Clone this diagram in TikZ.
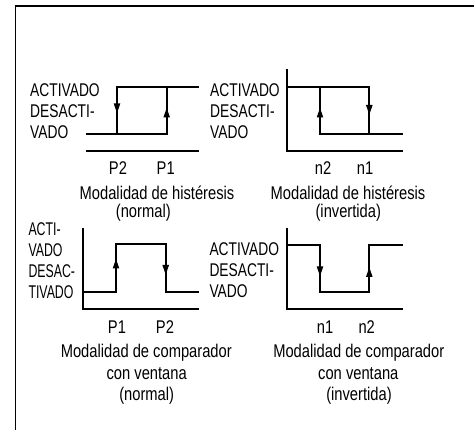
\documentclass[tikz,border=0pt]{standalone}
\usepackage{fontspec}
\newfontfamily\cf[FakeStretch=0.8]{Liberation Sans}
\newfontfamily\cfl[FakeStretch=0.75]{Liberation Sans}
\newfontfamily\cfn[FakeStretch=0.67]{Liberation Sans}
\usetikzlibrary{arrows.meta}
\begin{document}
\begin{tikzpicture}[x=1pt,y=-1pt,
  wave/.style={line width=2pt, line join=miter},
  frame/.style={line width=1.4pt},
  arr/.style={line width=2pt, -{Triangle[length=10pt,width=6pt]}},
  lbl/.style={font=\cfl\fontsize{18.4}{21}\selectfont, inner sep=0pt, anchor=base west},
  lbln/.style={font=\cfn\fontsize{18.4}{21}\selectfont, inner sep=0pt, anchor=base west},
  ctr/.style={font=\cf\fontsize{18.4}{21}\selectfont, inner sep=0pt, anchor=base}]
\useasboundingbox (0,0) rectangle (474,430);
% frame
\draw[frame] (15.5,430) -- (15.5,6) -- (474,6);
% ---------- panel 1: hysteresis normal
\draw[wave] (86,151) -- (199,151);
\draw[wave] (86,134.3) -- (166.7,134.3) -- (166.7,86.7);
\draw[wave] (117,134.3) -- (117,86.7) -- (199,86.7);
\draw[arr] (117,102) -- (117,113.5);
\draw[arr] (166.7,119) -- (166.7,107.5);
\node[lbl] (a1) at (30,96.7) {ACTIVADO};
\node[lbl] (a2) at (30,117.7) {DESACTI-};
\node[lbl] (a3) at (30,138.5) {VADO};
\node[ctr] (a4) at (118,174.3) {P2};
\node[ctr] (a5) at (165.7,174.3) {P1};
\node[ctr] (a6) at (157,199.3) {Modalidad de histéresis};
\node[ctr] (a7) at (143.3,217.5) {(normal)};
% ---------- panel 2: hysteresis inverted
\draw[wave] (286.7,69) -- (286.7,151) -- (402.7,151);
\draw[wave] (286.7,86.7) -- (369.3,86.7) -- (369.3,134.3) -- (402.7,134.3);
\draw[wave] (320,86.7) -- (320,134.3) -- (369.3,134.3);
\draw[arr] (320,119) -- (320,107.5);
\draw[arr] (369.3,102) -- (369.3,115);
\node[lbl] (b1) at (210,96.7) {ACTIVADO};
\node[lbl] (b2) at (210,117.7) {DESACTI-};
\node[lbl] (b3) at (210,138.5) {VADO};
\node[ctr] (b4) at (323,174.3) {n2};
\node[ctr] (b5) at (365,174.3) {n1};
\node[ctr] (b6) at (348,199.3) {Modalidad de histéresis};
\node[ctr] (b7) at (348.3,217.5) {(invertida)};
% ---------- panel 3: window normal
\draw[wave] (82.7,227.7) -- (82.7,309) -- (199.3,309);
\draw[wave] (82.7,292.3) -- (116,292.3) -- (116,244) -- (165.7,244) -- (165.7,292.3) -- (199.3,292.3);
\draw[arr] (116,270) -- (116,258.5);
\draw[arr] (165.7,263) -- (165.7,275);
\node[lbln] (c1) at (28.3,236) {ACTI-};
\node[lbln] (c2) at (28.3,256.7) {VADO};
\node[lbln] (c3) at (28.3,277.7) {DESAC-};
\node[lbln] (c4) at (28.3,298.3) {TIVADO};
\node[ctr] (c5) at (117,334) {P1};
\node[ctr] (c6) at (165,334) {P2};
\node[ctr] (c7) at (146.3,357.7) {Modalidad de comparador};
\node[ctr] (c8) at (146.7,379) {con ventana};
\node[ctr] (c9) at (146.7,400) {(normal)};
% ---------- panel 4: window inverted
\draw[wave] (286.7,228) -- (286.7,309) -- (402.7,309);
\draw[wave] (286.7,245) -- (320,245) -- (320,292.3) -- (369.3,292.3) -- (369.3,245) -- (402.7,245);
\draw[arr] (320,264) -- (320,276.5);
\draw[arr] (369.3,279) -- (369.3,267);
\node[lbl] (d1) at (209.3,255.7) {ACTIVADO};
\node[lbl] (d2) at (209.3,276.7) {DESACTI-};
\node[lbl] (d3) at (209.3,297.7) {VADO};
\node[ctr] (d4) at (325,334) {n1};
\node[ctr] (d5) at (366.7,334) {n2};
\node[ctr] (d6) at (358.8,357.7) {Modalidad de comparador};
\node[ctr] (d7) at (358.3,379) {con ventana};
\node[ctr] (d8) at (359,400) {(invertida)};
\end{tikzpicture}
\end{document}
